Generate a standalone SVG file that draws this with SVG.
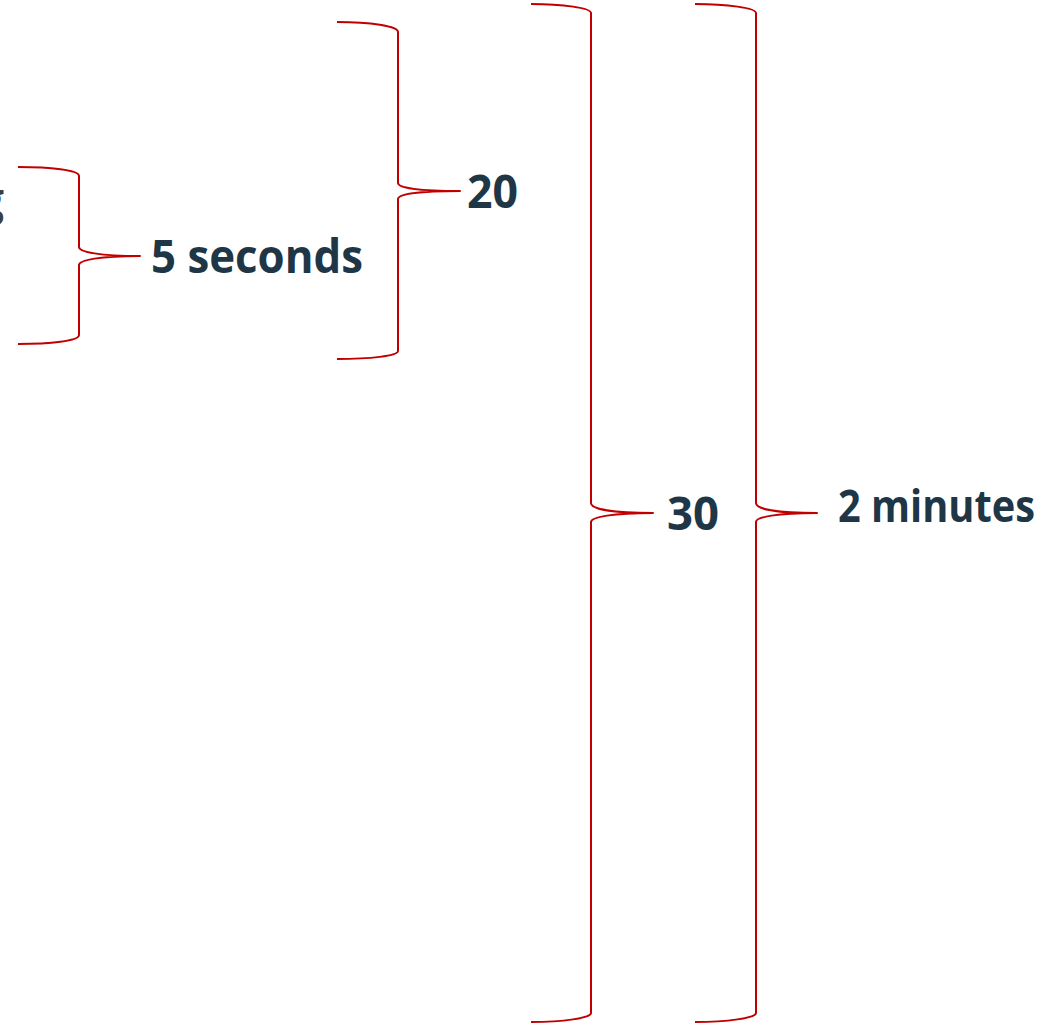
<svg xmlns="http://www.w3.org/2000/svg" width="1061" height="1023" viewBox="0 0 1061 1023">
  <style>
    .brace { fill: none; stroke: #C00000; stroke-width: 2; stroke-linejoin: round; }
    .lbl { font-family: "Open Sans", "Liberation Sans", sans-serif; font-weight: bold; font-size: 46px; fill: #1F3646; }
  </style>
  <rect width="1061" height="1023" fill="#FFFFFF"/>
  <g id="connectors">
    <path id="brace-5s" class="brace" d="M18,167 C50,167 79,170 79,176 L79,247 C79,252 100,256 140,256 C100,256 79,260 79,265 L79,335 C79,341 50,344 18,344"/>
    <path id="brace-20" class="brace" d="M337,22 C370,22 398,26 398,32 L398,183 C398,188 420,191 460,191 C420,191 398,194 398,199 L398,351 C398,356 370,359 337,359"/>
    <path id="brace-30" class="brace" d="M531,4 C563,4 591,8 591,13 L591,503 C591,509 613,513 653,513 C613,513 591,517 591,522 L591,1013 C591,1018 563,1022 531,1022"/>
    <path id="brace-2m" class="brace" d="M695,4 C727,4 756,8 756,13 L756,503 C756,509 777,513 817,513 C777,513 756,517 756,522 L756,1013 C756,1018 727,1022 695,1022"/>
  </g>
  <g id="node-fragment">
    <text class="lbl" x="4" y="216" text-anchor="end" style="fill:#3A3F44">g</text>
  </g>
  <g id="node-5s">
    <text class="lbl" x="151" y="273" textLength="212" lengthAdjust="spacingAndGlyphs">5 seconds</text>
  </g>
  <g id="node-20">
    <text class="lbl" x="467" y="208" textLength="51" lengthAdjust="spacingAndGlyphs">20</text>
  </g>
  <g id="node-30">
    <text class="lbl" x="667" y="530" textLength="52" lengthAdjust="spacingAndGlyphs">30</text>
  </g>
  <g id="node-2m">
    <text class="lbl" x="838" y="522" style="font-size:44px" textLength="197" lengthAdjust="spacingAndGlyphs">2 minutes</text>
  </g>
</svg>
